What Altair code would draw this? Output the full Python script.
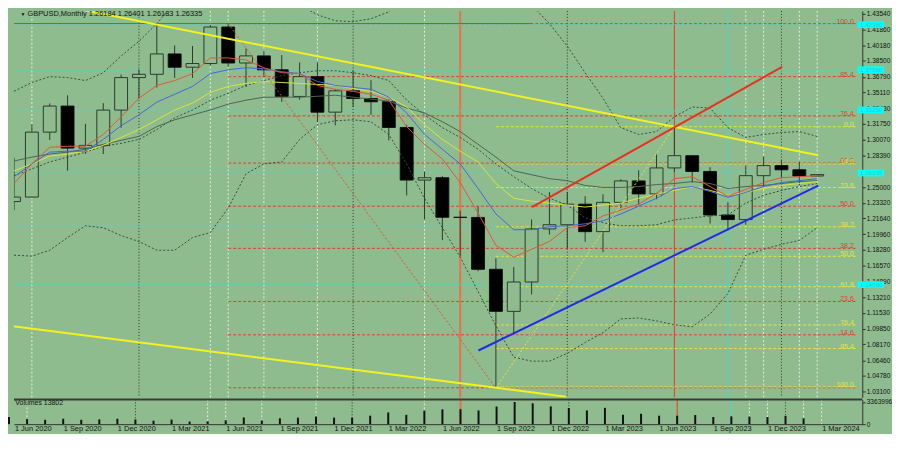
import altair as alt
import pandas as pd

BG = "#8FBC8F"
FONT = "Liberation Sans"
DARK = "#2a3a2a"

# ---------------- data ----------------
months = list(range(46))  # 0 = Jun 2020 ... 45 = Mar 2024
opens = [1.2345, 1.2393, 1.3088, 1.3367, 1.2917, 1.2946, 1.3324, 1.3672, 1.3707, 1.3925, 1.3783, 1.3822,
         1.4213, 1.3828, 1.3904, 1.3755, 1.3470, 1.3682, 1.3302, 1.3530, 1.3448, 1.3413, 1.3138, 1.2575,
         1.2600, 1.2177, 1.2175, 1.1620, 1.1170, 1.1484, 1.2052, 1.2097, 1.2317, 1.2023, 1.2336, 1.2566,
         1.2427, 1.2705, 1.2836, 1.2667, 1.2201, 1.2152, 1.2622, 1.2730, 1.2685, 1.26184]
highs = [1.2813, 1.3171, 1.3395, 1.3482, 1.3177, 1.3398, 1.3704, 1.3759, 1.4241, 1.4017, 1.4010, 1.4234,
         1.4250, 1.3984, 1.3959, 1.3913, 1.3834, 1.3835, 1.3548, 1.3749, 1.3644, 1.3437, 1.3167, 1.2667,
         1.2617, 1.2246, 1.2293, 1.1738, 1.1644, 1.2154, 1.2446, 1.2448, 1.2402, 1.2423, 1.2584, 1.2680,
         1.2848, 1.3143, 1.2841, 1.2713, 1.2338, 1.2733, 1.2827, 1.2785, 1.2772, 1.26401]
lows = [1.2252, 1.2385, 1.3005, 1.2676, 1.2855, 1.2854, 1.3135, 1.3450, 1.3566, 1.3668, 1.3669, 1.3800,
        1.3787, 1.3572, 1.3680, 1.3412, 1.3434, 1.3194, 1.3161, 1.3358, 1.3272, 1.3000, 1.2411, 1.2155,
        1.1933, 1.1760, 1.1600, 1.0350, 1.0924, 1.1351, 1.1992, 1.1841, 1.1915, 1.1803, 1.2274, 1.2308,
        1.2369, 1.2659, 1.2548, 1.2110, 1.2037, 1.2096, 1.2500, 1.2597, 1.2518, 1.26183]
closes = [1.2393, 1.3088, 1.3367, 1.2917, 1.2946, 1.3324, 1.3672, 1.3707, 1.3925, 1.3783, 1.3822, 1.4213,
          1.3828, 1.3904, 1.3755, 1.3470, 1.3682, 1.3302, 1.3530, 1.3448, 1.3413, 1.3138, 1.2575, 1.2600,
          1.2177, 1.2175, 1.1620, 1.1170, 1.1484, 1.2052, 1.2097, 1.2317, 1.2023, 1.2336, 1.2566, 1.2427,
          1.2705, 1.2836, 1.2667, 1.2201, 1.2152, 1.2622, 1.2730, 1.2685, 1.2618, 1.26335]
volumes = [1088000, 762000, 663000, 821000, 663000, 722000, 821000, 722000, 524000, 693000, 396000, 425000,
           594000, 1019000, 564000, 890000, 989000, 1158000, 989000, 989000, 1286000, 1781000, 1415000, 2048000,
           2246000, 2276000, 2078000, 2671000, 3363996, 3166000, 2701000, 2444000, 2078000, 2474000, 1415000,
           1583000, 1286000, 1286000, 1385000, 1088000, 1187000, 1158000, 1088000, 1257000, 890000, 13802]

ma_red = [1.2538, 1.2748, 1.2926, 1.2937, 1.2937, 1.3063, 1.3252, 1.3451, 1.3588, 1.3640, 1.3714, 1.3882,
          1.3882, 1.3861, 1.3777, 1.3724, 1.3714, 1.3588, 1.3546, 1.3525, 1.3493, 1.3430, 1.3147, 1.2958,
          1.2800, 1.2548, 1.2223, 1.1876, 1.1750, 1.1834, 1.1918, 1.2065, 1.2086, 1.2191, 1.2254, 1.2317,
          1.2433, 1.2590, 1.2611, 1.2506, 1.2401, 1.2475, 1.2548, 1.2601, 1.2611, 1.2622]
ma_blue = [1.2611, 1.2748, 1.2874, 1.2884, 1.2884, 1.3010, 1.3157, 1.3273, 1.3409, 1.3493, 1.3577, 1.3714,
           1.3756, 1.3777, 1.3766, 1.3735, 1.3714, 1.3630, 1.3588, 1.3567, 1.3546, 1.3462, 1.3294, 1.3063,
           1.2905, 1.2748, 1.2485, 1.2212, 1.2044, 1.2044, 1.2076, 1.2086, 1.2107, 1.2139, 1.2212, 1.2296,
           1.2380, 1.2485, 1.2506, 1.2454, 1.2391, 1.2443, 1.2506, 1.2548, 1.2569, 1.2590]
ma_yellow = [1.2674, 1.2748, 1.2832, 1.2853, 1.2884, 1.2947, 1.3031, 1.3115, 1.3220, 1.3325, 1.3399, 1.3514,
             1.3577, 1.3609, 1.3630, 1.3619, 1.3609, 1.3598, 1.3588, 1.3556, 1.3525, 1.3462, 1.3357, 1.3168,
             1.3010, 1.2884, 1.2769, 1.2538, 1.2380, 1.2349, 1.2328, 1.2307, 1.2286, 1.2307, 1.2328, 1.2380,
             1.2422, 1.2464, 1.2506, 1.2464, 1.2412, 1.2443, 1.2485, 1.2517, 1.2538, 1.2559]
ma_gray = [1.2779, 1.2821, 1.2853, 1.2874, 1.2905, 1.2958, 1.3000, 1.3042, 1.3147, 1.3220, 1.3273, 1.3325,
           1.3388, 1.3430, 1.3462, 1.3462, 1.3462, 1.3472, 1.3483, 1.3462, 1.3441, 1.3420, 1.3346, 1.3294,
           1.3199, 1.3094, 1.2958, 1.2821, 1.2674, 1.2632, 1.2590, 1.2569, 1.2517, 1.2496, 1.2496, 1.2506,
           1.2527, 1.2538, 1.2559, 1.2538, 1.2485, 1.2506, 1.2517, 1.2538, 1.2559, 1.2569]
bb_upper = [1.3525, 1.3619, 1.3682, 1.3672, 1.3640, 1.3724, 1.3903, 1.4060, 1.4249, 1.4480, 1.4606, 1.4690,
            1.4743, 1.4743, 1.4690, 1.4585, 1.4449, 1.4344, 1.4280, 1.4270, 1.4302, 1.4375, 1.4533, 1.4690,
            1.4848, 1.4953, 1.5005, 1.4900, 1.4690, 1.4449, 1.4249, 1.4008, 1.3724, 1.3451, 1.3136, 1.3063,
            1.3094, 1.3252, 1.3357, 1.3346, 1.3136, 1.3031, 1.3063, 1.3084, 1.3094, 1.3042]
bb_mid = [1.2622, 1.2695, 1.2769, 1.2821, 1.2874, 1.2937, 1.2968, 1.3010, 1.3115, 1.3241, 1.3325, 1.3430,
          1.3504, 1.3588, 1.3640, 1.3693, 1.3724, 1.3745, 1.3745, 1.3724, 1.3693, 1.3640, 1.3430, 1.3273,
          1.3136, 1.3031, 1.2905, 1.2748, 1.2611, 1.2485, 1.2380, 1.2307, 1.2170, 1.2118, 1.2086, 1.2086,
          1.2097, 1.2149, 1.2170, 1.2191, 1.2202, 1.2328, 1.2412, 1.2464, 1.2506, 1.2538]
bb_lower = [1.1771, 1.1761, 1.1824, 1.1960, 1.2086, 1.2065, 1.1981, 1.1918, 1.1824, 1.1824, 1.1960, 1.2013,
            1.2275, 1.2643, 1.2748, 1.2769, 1.3010, 1.3168, 1.3210, 1.3220, 1.3199, 1.3063, 1.2748, 1.2380,
            1.2065, 1.1750, 1.1383, 1.1015, 1.0679, 1.0637, 1.0637, 1.0721, 1.0837, 1.0942, 1.1089, 1.1099,
            1.1068, 1.1026, 1.1005, 1.1141, 1.1362, 1.1771, 1.1834, 1.1887, 1.1929, 1.2065]

date_labels = ["1 Jun 2020", "1 Sep 2020", "1 Dec 2020", "1 Mar 2021", "1 Jun 2021", "1 Sep 2021",
               "1 Dec 2021", "1 Mar 2022", "1 Jun 2022", "1 Sep 2022", "1 Dec 2022", "1 Mar 2023",
               "1 Jun 2023", "1 Sep 2023", "1 Dec 2023", "1 Mar 2024"]
date_ticks = [0.3, 3, 6, 9, 12, 15, 18, 21, 24, 27, 30, 33, 36, 39, 42, 45]
price_ticks = [1.43540, 1.41860, 1.40180, 1.38500, 1.36790, 1.35110, 1.33430, 1.31750, 1.30070, 1.28390,
               1.25000, 1.23320, 1.21640, 1.19960, 1.18280, 1.16570, 1.14890, 1.13210, 1.11530,
               1.09850, 1.08170, 1.06460, 1.04780, 1.03100]

red_fib_labels = ["100.0", "85.4", "76.4", "61.8", "50.0", "38.2", "23.6", "14.6", ""]
red_fib_prices = [1.4249, 1.3682, 1.3262, 1.2757, 1.2295, 1.1844, 1.1276, 1.0919, 1.0352]
yel_fib_labels = ["0.0", "14.6", "23.6", "38.2", "50.0", "61.8", "76.4", "85.4", "100.0"]
yel_fib_prices = [1.3146, 1.2747, 1.2495, 1.2075, 1.1759, 1.1434, 1.1024, 1.0772, 1.0362]
cyan_prices = [1.4238, 1.3745, 1.3315, 1.2664, 1.2086, 1.1456]
cyan_box_prices = [1.4238, 1.3756, 1.3325, 1.2650, 1.1456]
cyan_box_labels = ["1.42380", "1.37560", "1.33250", "1.26335", "1.14560"]

white_vlines = [1, 11, 12, 14, 17, 23, 41, 42, 44, 45]
dark_vlines = [7, 19, 31, 43]
red_vlines = [25, 37]
cyan_vlines = [40]

trend_kind = ["yel", "yel", "red", "blue", "reddot", "yeldot"]
trend_x1 = [2.18, -0.164, 29.02, 26.02, 12, 27]
trend_y1 = [1.4459, 1.1013, 1.2285, 1.0751, 1.4250, 1.0350]
trend_x2 = [45.06, 30.93, 43.04, 45.06, 27, 37]
trend_y2 = [1.2841, 1.0257, 1.3787, 1.2516, 1.0350, 1.3143]

title_text = "GBPUSD,Monthly  1.26184 1.26401 1.26183 1.26335"
vol_text = "Volumes 13802"

# ---------------- scales / axes ----------------
X_DOM = [0.273, 47.25]
W = 856
H_MAIN = 390
H_VOL = 25
xs = alt.Scale(domain=X_DOM, nice=False, zero=False)
ys = alt.Scale(domain=[1.0249, 1.43855], nice=False, zero=False)
vs = alt.Scale(domain=[0, 3760000], nice=False, zero=True)

Y_AXIS = alt.Axis(orient="right", values=price_ticks, format=".5f", title=None, grid=False,
                  labelFont=FONT, labelFontSize=6.6, labelColor="#111111", tickSize=3, tickColor="#333333",
                  domainColor="#333333", labelPadding=1)
label_arr = "[" + ",".join("'" + s + "'" for s in date_labels) + "]"
X_AXIS = alt.Axis(orient="bottom", values=date_ticks, labelExpr=label_arr + "[round(datum.value / 3)]",
                  title=None, grid=False, ticks=False, labelAlign="left", labelFont=FONT, labelFontSize=7.5,
                  labelColor="#111111", domainColor="#333333", labelPadding=0, labelFlush=False)
V_AXIS = alt.Axis(orient="right", values=[0, 3363996], format="d", title=None, grid=False,
                  labelFont=FONT, labelFontSize=6.6, labelColor="#111111", tickSize=3, tickColor="#333333",
                  domainColor="#333333", labelPadding=1)


def X(field="i"):
    return alt.X(f"{field}:Q", scale=xs, axis=None)


def Y(field):
    return alt.Y(f"{field}:Q", scale=ys, axis=Y_AXIS)


# ---------------- main panel ----------------
cdf = pd.DataFrame({"i": months, "open": opens, "high": highs, "low": lows, "close": closes})


def vrules(vals, color, width, dash, vol=False):
    d = pd.DataFrame({"i": vals})
    mk = dict(color=color, strokeWidth=width)
    if dash:
        mk["strokeDash"] = dash
    return alt.Chart(d).mark_rule(**mk).encode(x=alt.X("i:Q", scale=xs, axis=(X_AXIS if vol else None)))


def vline_layers(vol=False):
    return [
        vrules(white_vlines, "#E4EEE4", 1, [2, 2], vol),
        vrules(dark_vlines, "#27352a", 1, [1, 2], vol),
        vrules(red_vlines[:1], "#E8704A", 2, None, vol),
        vrules(red_vlines[1:], "#E83A28", 1, None, vol),
        vrules(cyan_vlines, "#48D8CC", 1, None, vol),
    ]


def hlevels(prices, x_start, x_end, color, dash, width=1):
    d = pd.DataFrame({"p": prices})
    mk = dict(color=color, strokeWidth=width, clip=True)
    if dash:
        mk["strokeDash"] = dash
    return alt.Chart(d).transform_calculate(xa=str(x_start), xb=str(x_end)).mark_rule(**mk).encode(
        x=alt.X("xa:Q", scale=xs, axis=None), x2=alt.X2("xb:Q"), y=Y("p"))


cyan_h = hlevels(cyan_prices, -1, X_DOM[1], "#48D8CC", [2, 2])
red_h = hlevels(red_fib_prices, 12, X_DOM[1], "#E0402A", [3, 2])
yel_h = hlevels(yel_fib_prices, 27, X_DOM[1], "#E4E43C", [3, 2])
red_top = hlevels([1.4250], -1, 29, "#E03A28", None)

tdf = pd.DataFrame({"x1": trend_x1, "y1": trend_y1, "x2": trend_x2, "y2": trend_y2, "k": trend_kind})


def trend(kind, color, width, dash=None):
    mk = dict(color=color, strokeWidth=width, clip=True)
    if dash:
        mk["strokeDash"] = dash
    return alt.Chart(tdf).transform_filter(f"datum.k == '{kind}'").mark_rule(**mk).encode(
        x=X("x1"), y=Y("y1"), x2=alt.X2("x2:Q"), y2=alt.Y2("y2:Q"))


trend_layers = [
    trend("reddot", "#E0503A", 1, [2, 2]),
    trend("yeldot", "#E4E43C", 1, [2, 2]),
    trend("yel", "#F2F21E", 2),
    trend("red", "#E8301E", 2),
    trend("blue", "#1E2EE6", 2),
]

ldf = pd.DataFrame({"i": months, "red": ma_red, "blue": ma_blue, "yellow": ma_yellow, "gray": ma_gray,
                    "up": bb_upper, "mid": bb_mid, "lo": bb_lower})


def ma(field, color, dash=None, width=1):
    mk = dict(color=color, strokeWidth=width, clip=True)
    if dash:
        mk["strokeDash"] = dash
    return alt.Chart(ldf).mark_line(**mk).encode(x=X(), y=Y(field))


ma_layers = [
    ma("up", "#3a4a3a", [2, 2]),
    ma("mid", "#3a4a3a", [2, 2]),
    ma("lo", "#3a4a3a", [2, 2]),
    ma("gray", "#4e6450"),
    ma("yellow", "#DCE23C"),
    ma("blue", "#4566E0"),
    ma("red", "#E4553A"),
]

wicks = alt.Chart(cdf).mark_rule(color=DARK, strokeWidth=1, clip=True).encode(
    x=X(), y=Y("low"), y2=alt.Y2("high:Q"))
bull = alt.Chart(cdf).transform_filter("datum.close >= datum.open").mark_bar(
    size=13, fill=BG, stroke=DARK, strokeWidth=1, clip=True).encode(x=X(), y=Y("open"), y2=alt.Y2("close:Q"))
bear = alt.Chart(cdf).transform_filter("datum.close < datum.open").mark_bar(
    size=13, fill="#000000", stroke="#111111", strokeWidth=1, clip=True).encode(
    x=X(), y=Y("open"), y2=alt.Y2("close:Q"))


def fib_text(prices, labels, color):
    return alt.Chart(pd.DataFrame({"p": prices, "t": labels})).transform_calculate(xx="47.05").mark_text(
        align="right", baseline="middle", dy=-2, font=FONT, fontSize=7, color=color, clip=False
    ).encode(x=alt.X("xx:Q", scale=xs, axis=None), y=Y("p"), text="t:N")


fib_red_txt = fib_text(red_fib_prices, red_fib_labels, "#E0402A")
fib_yel_txt = fib_text(yel_fib_prices, yel_fib_labels, "#E4E43C")

bdf = pd.DataFrame({"p": cyan_box_prices, "t": cyan_box_labels})
cyan_boxes = alt.Chart(bdf).transform_calculate(xa="47.27", xb="48.75", ya="datum.p + 0.0036",
                                                yb="datum.p - 0.0036").mark_rect(
    color="#00FFFF", clip=False).encode(x=alt.X("xa:Q", scale=xs, axis=None), x2=alt.X2("xb:Q"),
                                        y=Y("ya"), y2=alt.Y2("yb:Q"))
cyan_box_txt = alt.Chart(bdf).transform_calculate(xx="47.42").mark_text(
    align="left", baseline="middle", font=FONT, fontSize=6.2, color="#40c4c4", clip=False).encode(
    x=alt.X("xx:Q", scale=xs, axis=None), y=Y("p"), text="t:N")

title = alt.Chart(pd.DataFrame({"t": [title_text], "x": [0.75], "y": [1.4348]})).mark_text(
    align="left", baseline="middle", font=FONT, fontSize=7.5, color="#111111").encode(
    x=X("x"), y=Y("y"), text="t:N")
tri = alt.Chart(pd.DataFrame({"t": ["\u25BC"], "x": [0.5], "y": [1.4348]})).mark_text(
    align="center", baseline="middle", fontSize=5, color="#111111").encode(x=X("x"), y=Y("y"), text="t:N")

main = alt.layer(
    *vline_layers(), cyan_h, red_h, yel_h, red_top,
    wicks, bull, bear,
    *ma_layers, *trend_layers,
    fib_red_txt, fib_yel_txt, cyan_boxes, cyan_box_txt, title, tri
).properties(width=W, height=H_MAIN)

# ---------------- volume panel ----------------
vdf = pd.DataFrame({"i": months, "v": volumes})
vbars = alt.Chart(vdf).transform_calculate(z="0").mark_rule(color="#111111", strokeWidth=2).encode(
    x=alt.X("i:Q", scale=xs, axis=X_AXIS), y=alt.Y("v:Q", scale=vs, axis=V_AXIS), y2=alt.Y2("z:Q"))
sep = alt.Chart(pd.DataFrame({"v": [3760000]})).mark_rule(color="#3a3a3a", strokeWidth=2).encode(
    y=alt.Y("v:Q", scale=vs, axis=V_AXIS))
vtxt = alt.Chart(pd.DataFrame({"t": [vol_text], "x": [0.35], "v": [3150000]})).mark_text(
    align="left", baseline="middle", font=FONT, fontSize=7, color="#111111").encode(
    x=alt.X("x:Q", scale=xs, axis=X_AXIS), y=alt.Y("v:Q", scale=vs, axis=V_AXIS), text="t:N")

vol = alt.layer(*vline_layers(True), vbars, sep, vtxt).properties(width=W, height=H_VOL)

chart = alt.vconcat(main, vol, spacing=0).properties(padding=0, background=BG).configure_view(
    stroke=None, fill=BG).configure_concat(spacing=0)

chart.save("out.html", embed_options={"renderer": "svg", "actions": False})
